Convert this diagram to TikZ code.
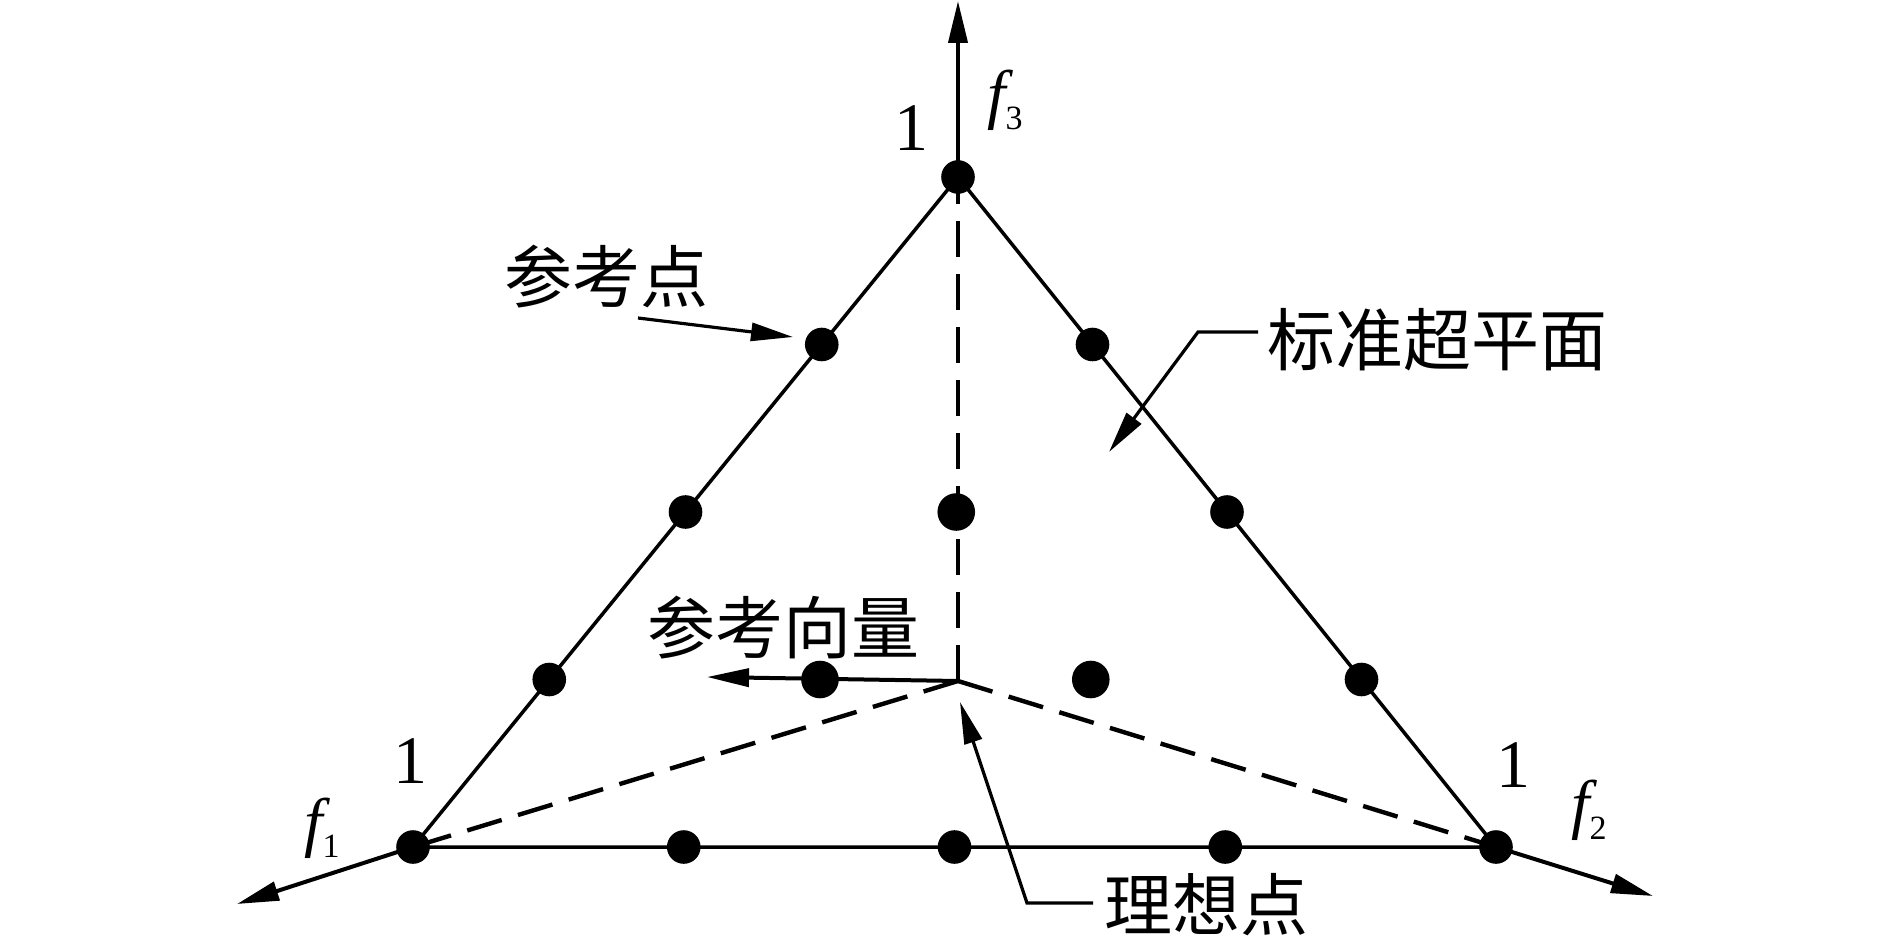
\documentclass[tikz,border=0pt]{standalone}
\usepackage{fontspec}
\setmainfont{Liberation Serif}
\newfontfamily\cjk{Noto Sans CJK SC}
\usetikzlibrary{arrows.meta,calc}
\begin{document}
\begin{tikzpicture}[x=0.5pt,y=-0.5pt,
  edge/.style={line width=1.75pt},
  axis/.style={line width=2pt,-{Triangle[length=21pt,width=9.5pt]}},
  guide/.style={line width=2.2pt,dash pattern=on 18pt off 8.5pt},
  pointer/.style={line width=1.6pt,-{Triangle[length=21pt,width=9pt]}},
  dot/.style={circle,fill=black,inner sep=0pt,minimum size=16.8pt},
  bigdot/.style={dot,minimum size=18.8pt},
  cn/.style={font=\cjk\fontsize{34pt}{34pt}\selectfont,inner sep=0pt},
  num/.style={font=\fontsize{34pt}{34pt}\selectfont,inner sep=0pt},
  flab/.style={font=\fontsize{33pt}{33pt}\selectfont,inner sep=0pt}]
\useasboundingbox (0,0) rectangle (1889,940);

% vertices and origin
\coordinate (A) at (958,177);
\coordinate (L) at (413,847);
\coordinate (R) at (1496,847);
\coordinate (O) at (958,681);

% axis tips
\coordinate (f3tip) at (958,1);
\coordinate (f1tip) at (237,904);
\coordinate (f2tip) at (1653,896);

% dashed guides
\draw[guide] (O) -- (A);
\draw[guide] (O) -- (L);
\draw[guide] (O) -- (R);

% triangle
\draw[edge] (A) -- (L) -- (R) -- cycle;

% axes
\draw[axis] (A) -- (f3tip);
\draw[axis] (L) -- (f1tip);
\draw[axis] (R) -- (f2tip);

% reference vector
\coordinate (rvtip) at (707,677);
\draw[pointer,line width=2pt] (O) -- (rvtip);

% dots
\node[dot] (dA) at (A) {};
\node[dot] (dL) at (L) {};
\node[dot] (dR) at (R) {};
\node[dot] (l1) at ($(A)!0.25!(L)$) {};
\node[dot] (l2) at ($(A)!0.5!(L)$) {};
\node[dot] (l3) at ($(A)!0.75!(L)$) {};
\node[dot] (r1) at ($(A)!0.25!(R)$) {};
\node[dot] (r2) at ($(A)!0.5!(R)$) {};
\node[dot] (r3) at ($(A)!0.75!(R)$) {};
\node[dot] (b1) at ($(L)!0.25!(R)$) {};
\node[dot] (b2) at ($(L)!0.5!(R)$) {};
\node[dot] (b3) at ($(L)!0.75!(R)$) {};
\node[bigdot] (c1) at ($(l2)!0.5!(r2)$) {};
\node[bigdot] (c2) at ($(l3)!0.3333!(r3)$) {};
\node[bigdot] (c3) at ($(l3)!0.6667!(r3)$) {};

% number labels
\node[num] (one3) at (911,128) {1};
\node[num] (one1) at (410,761) {1};
\node[num] (one2) at (1513,765) {1};

% axis labels
\node[flab] (lf3) at (1005,100) {\itshape f\raisebox{-6.5pt}{\upshape\fontsize{17pt}{17pt}\selectfont 3}};
\node[flab] (lf1) at (322,828) {\itshape f\raisebox{-6.5pt}{\upshape\fontsize{17pt}{17pt}\selectfont 1}};
\node[flab] (lf2) at (1589,810) {\itshape f\raisebox{-6.5pt}{\upshape\fontsize{17pt}{17pt}\selectfont 2}};

% annotations
\node[cn] (refpt) at (606,277) {参考点};
\coordinate (refptstart) at (638,318);
\coordinate (refpttip) at (793,337);
\draw[pointer] (refptstart) -- (refpttip);

\node[cn] (plane) at (1437,340) {标准超平面};
\coordinate (planeend) at (1258,332);
\coordinate (planeknee) at (1198,332);
\coordinate (planetip) at (1109,452);
\draw[pointer] (planeend) -- (planeknee) -- (planetip);

\node[cn] (refvec) at (783,628) {参考向量};

\node[cn] (ideal) at (1206,905) {理想点};
\coordinate (idealend) at (1093,903);
\coordinate (idealknee) at (1027,903);
\coordinate (idealtip) at (960,702);
\draw[pointer] (idealend) -- (idealknee) -- (idealtip);
\end{tikzpicture}
\end{document}
